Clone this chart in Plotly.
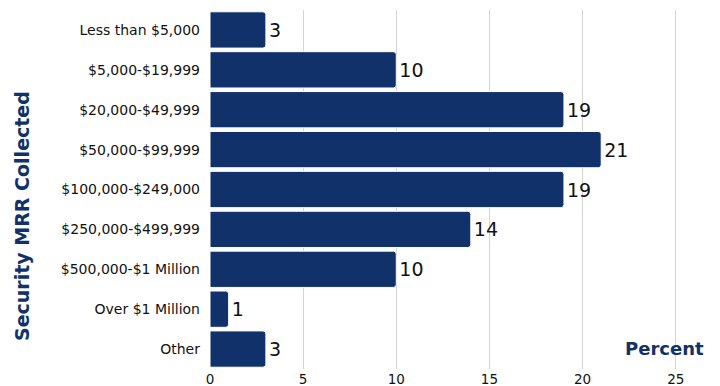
import plotly.graph_objects as go

categories = ["Less than $5,000", "$5,000-$19,999", "$20,000-$49,999", "$50,000-$99,999",
              "$100,000-$249,000", "$250,000-$499,999", "$500,000-$1 Million",
              "Over $1 Million", "Other"]
values = [3, 10, 19, 21, 19, 14, 10, 1, 3]
x_ticks = [0, 5, 10, 15, 20, 25]

navy = "#11316a"
font_family = "DejaVu Sans, sans-serif"

fig = go.Figure(go.Bar(
    x=values, y=categories, orientation="h",
    marker=dict(color=navy, line=dict(color="white", width=1), cornerradius=3),
    text=[str(v) for v in values], textposition="outside",
    textfont=dict(size=19, color="#111111", family=font_family),
    cliponaxis=False,
))

fig.update_layout(
    width=720, height=386,
    margin=dict(l=210, r=10, t=10, b=17, autoexpand=False),
    plot_bgcolor="white", paper_bgcolor="white",
    bargap=0.09,
    font=dict(family=font_family, color="#111111"),
    showlegend=False,
    xaxis=dict(range=[0, 26.84], tickvals=x_ticks, showgrid=True, gridcolor="#d4d4d4",
               gridwidth=1, zeroline=False, showline=False, tickfont=dict(size=13.5),
               ticks="", automargin=False),
    yaxis=dict(autorange="reversed", tickfont=dict(size=14), ticks="", ticklabelstandoff=9,
               automargin=False),
    annotations=[
        dict(text="<b>Percent</b>", x=(706 - 210) / 500, y=(369 - 348) / 359,
             xref="paper", yref="paper",
             xanchor="right", yanchor="middle", showarrow=False,
             font=dict(size=18, color=navy)),
        dict(text="<b>Security MRR Collected</b>", x=(22 - 210) / 500,
             y=(369 - 216) / 359, xref="paper", yref="paper",
             textangle=-90, xanchor="center", yanchor="middle", showarrow=False,
             font=dict(size=19, color=navy)),
    ],
)

fig.write_html("out.html", config={"displayModeBar": False},
               post_script="document.body.style.margin='0';")
